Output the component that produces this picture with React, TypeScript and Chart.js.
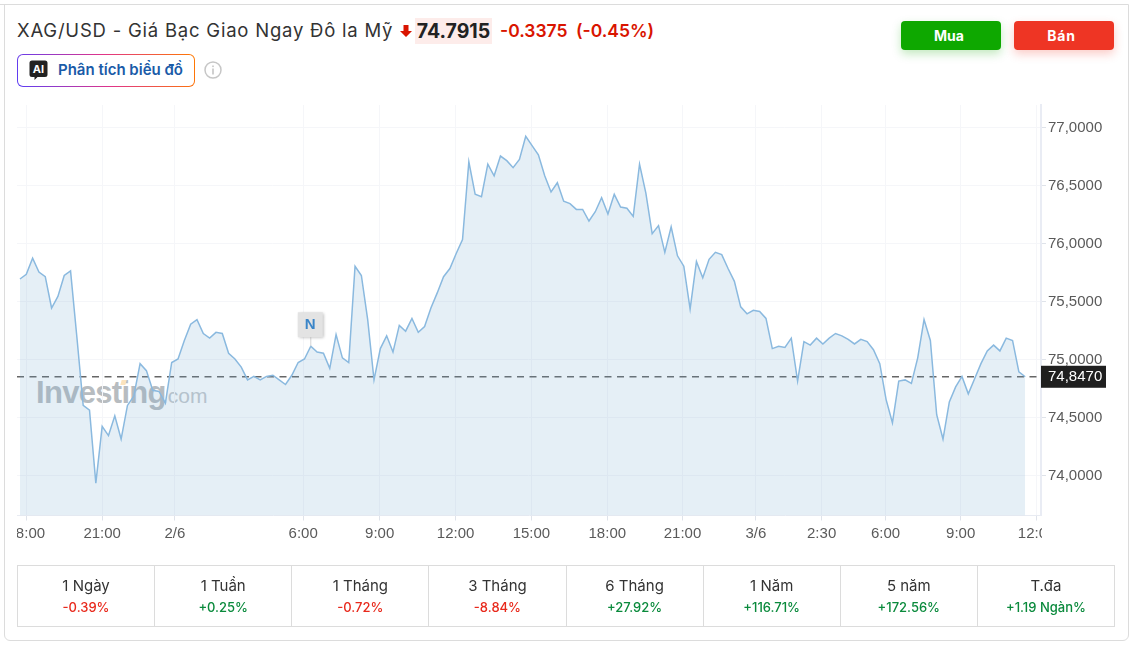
import React, { useEffect, useRef } from "react";
import { Chart, registerables } from "chart.js";

Chart.register(...registerables);

const prices = [
  75.69, 75.73, 75.87, 75.75, 75.71, 75.44, 75.54, 75.72, 75.76, 75.19,
  74.60, 74.56, 73.93, 74.42, 74.34, 74.51, 74.31, 74.60, 74.68, 74.96,
  74.90, 74.73, 74.72, 74.62, 74.97, 75.00, 75.16, 75.30, 75.34, 75.22,
  75.18, 75.23, 75.22, 75.05, 75.00, 74.93, 74.82, 74.85, 74.82, 74.85,
  74.86, 74.82, 74.78, 74.86, 74.97, 75.00, 75.11, 75.06, 75.05, 74.92,
  75.21, 75.01, 74.97, 75.80, 75.72, 75.34, 74.82, 75.09, 75.20, 75.06,
  75.29, 75.24, 75.35, 75.23, 75.28, 75.44, 75.57, 75.71, 75.78, 75.91,
  76.03, 76.70, 76.42, 76.40, 76.68, 76.58, 76.75, 76.71, 76.65, 76.72,
  76.92, 76.84, 76.76, 76.58, 76.44, 76.52, 76.36, 76.34, 76.29, 76.29,
  76.19, 76.27, 76.39, 76.25, 76.42, 76.31, 76.30, 76.23, 76.68, 76.43,
  76.08, 76.15, 75.92, 76.14, 75.89, 75.80, 75.43, 75.84, 75.70, 75.86,
  75.92, 75.90, 75.78, 75.67, 75.45, 75.39, 75.42, 75.41, 75.35, 75.09,
  75.11, 75.10, 75.18, 74.81, 75.15, 75.12, 75.18, 75.13, 75.18, 75.22,
  75.20, 75.17, 75.13, 75.17, 75.15, 75.08, 74.96, 74.65, 74.45, 74.81,
  74.82, 74.79, 75.01, 75.34, 75.16, 74.52, 74.31, 74.63, 74.76, 74.85,
  74.70, 74.83, 74.96, 75.07, 75.12, 75.07, 75.18, 75.16, 74.89, 74.847,
];
const tickLabels = ["18:00", "21:00", "2/6", "6:00", "9:00", "12:00", "15:00", "18:00", "21:00", "3/6", "2:30", "6:00", "9:00", "12:00"];
const tickSlots = [1, 13, 24.5, 44.8, 56.9, 68.9, 80.9, 92.9, 104.8, 116.4, 126.8, 136.9, 148.8, 160.8];
const yTicks = [74, 74.5, 75, 75.5, 76, 76.5, 77];
const lastPrice = 74.847;
const newsSlot = 46;
const periods = ["1 Ngày", "1 Tuần", "1 Tháng", "3 Tháng", "6 Tháng", "1 Năm", "5 năm", "T.đa"];
const periodChanges = ["-0.39%", "+0.25%", "-0.72%", "-8.84%", "+27.92%", "+116.71%", "+172.56%", "+1.19 Ngàn%"];

const UI = "Inter, 'Noto Sans', sans-serif";
const AXIS = "'Liberation Sans', Arial, sans-serif";

const overlay = {
  id: "overlay",
  beforeDraw(chart: any) {
    // the y labels sit one pixel lower than their ticks in the original
    chart.scales.y.getLabelItems().forEach((it: any) => {
      if (!it.shifted) {
        it.options.translation[1] += 1;
        it.shifted = true;
      }
    });
  },
  afterDraw(chart: any) {
    const { ctx, scales, chartArea } = chart;
    const x = scales.x;
    const y = scales.y;
    ctx.save();
    // clip axis labels at plot edges, like the original
    ctx.clearRect(5, chartArea.bottom + 4, chartArea.left - 5, 30);
    ctx.clearRect(chartArea.right + 1, chartArea.bottom + 4, 40, 30);
    // last price tag
    const py = y.getPixelForValue(lastPrice);
    ctx.fillStyle = "#1f1f1f";
    ctx.fillRect(chartArea.right, py - 11, 65, 22);
    ctx.fillStyle = "#ffffff";
    ctx.font = "15px " + AXIS;
    ctx.textAlign = "left";
    ctx.textBaseline = "middle";
    ctx.fillText(lastPrice.toFixed(4).replace(".", ","), chartArea.right + 7, py + 0.5);
    // news marker
    const nx = x.getPixelForValue(newsSlot);
    const ny = y.getPixelForValue(prices[newsSlot]);
    ctx.strokeStyle = "#d5d5d5";
    ctx.lineWidth = 1;
    ctx.beginPath();
    ctx.moveTo(nx, ny);
    ctx.lineTo(nx, ny - 10);
    ctx.stroke();
    ctx.shadowColor = "rgba(0,0,0,0.3)";
    ctx.shadowBlur = 3;
    ctx.shadowOffsetX = 1;
    ctx.shadowOffsetY = 1;
    ctx.fillStyle = "#e3e3e3";
    ctx.fillRect(nx - 13, ny - 34, 25, 25);
    ctx.shadowColor = "transparent";
    ctx.fillStyle = "#3a85c8";
    ctx.font = "bold 15px " + AXIS;
    ctx.textAlign = "center";
    ctx.fillText("N", nx - 0.5, ny - 21);
    ctx.restore();
  },
};

function AbsText(p: { x: number; y: number; w?: number; style?: React.CSSProperties; children: React.ReactNode }) {
  return (
    <div style={{ position: "absolute", left: p.x, top: p.y, width: p.w, whiteSpace: "nowrap", ...p.style }}>{p.children}</div>
  );
}

export default function App() {
  const ref = useRef<HTMLCanvasElement>(null);
  useEffect(() => {
    const chart = new Chart(ref.current!, {
      type: "line",
      data: {
        datasets: [
          {
            data: prices.map((p, i) => ({ x: i, y: p })),
            borderColor: "#8ab9df",
            borderWidth: 1.5,
            backgroundColor: "rgba(115,170,205,0.19)",
            fill: "start",
            pointRadius: 0,
            tension: 0,
          },
          {
            data: [
              { x: -0.47, y: lastPrice },
              { x: 161.5, y: lastPrice },
            ],
            borderColor: "#666666",
            borderWidth: 1.5,
            borderDash: [7, 5.5],
            pointRadius: 0,
            fill: false,
          },
        ],
      },
      plugins: [overlay],
      options: {
        animation: false,
        responsive: false,
        events: [],
        layout: { padding: { left: 17, top: 105, right: 0, bottom: 0 } },
        plugins: { legend: { display: false }, tooltip: { enabled: false } },
        scales: {
          x: {
            type: "linear",
            min: -0.47,
            max: 161.5,
            afterFit(s: any) {
              s.height = 130.5;
            },
            afterBuildTicks(s: any) {
              s.ticks = tickSlots.map((v) => ({ value: v }));
            },
            grid: { color: "#f5f6f9", tickColor: "#dfe3ea", tickLength: 5, lineWidth: 1 },
            border: { color: "#e8ebf2", width: 1 },
            ticks: {
              autoSkip: false,
              maxRotation: 0,
              padding: 4,
              color: "#5a5a5a",
              font: { family: AXIS, size: 15 },
              callback(_v: any, i: number) {
                return tickLabels[i];
              },
            },
          },
          y: {
            position: "right",
            min: 73.651,
            max: 77.19,
            afterFit(s: any) {
              s.width = 94;
            },
            afterBuildTicks(s: any) {
              s.ticks = yTicks.map((v) => ({ value: v }));
            },
            grid: { color: "#f5f6f9", tickColor: "#dfe3ea", tickLength: 5, lineWidth: 1 },
            border: { color: "#e9ecf4", width: 2 },
            ticks: {
              padding: 2,
              color: "#5a5a5a",
              font: { family: AXIS, size: 15 },
              callback(v: any) {
                return Number(v).toFixed(4).replace(".", ",");
              },
            },
          },
        },
      },
    } as any);
    return () => chart.destroy();
  }, []);

  return (
    <div style={{ position: "absolute", left: 0, top: 0, width: 1135, height: 646, overflow: "hidden", background: "#fff", fontFamily: UI }}>
      {/* card */}
      <div style={{ position: "absolute", left: 0, top: 4, width: 6, height: 1, background: "#dcdcdc" }} />
      <div style={{ position: "absolute", left: 4, top: 4, width: 1123, height: 635, border: "1px solid #dcdcdc", borderRadius: "0 0 6px 6px" }} />

      {/* header */}
      <AbsText x={17} y={18} style={{ fontSize: 18.5, letterSpacing: 0.78, lineHeight: "25px", color: "#333" }}>XAG/USD - Giá Bạc Giao Ngay Đô la Mỹ</AbsText>
      <svg style={{ position: "absolute", left: 400, top: 25 }} width={12} height={12} viewBox="0 0 12 12">
        <path d="M3.5 0h5v6h3.5L6 12 0 6h3.5z" fill="#d91400" />
      </svg>
      <AbsText x={415} y={18} w={77} style={{ height: 26, background: "#fdecea", fontSize: 19.5, fontWeight: 700, lineHeight: "26px", color: "#222", textAlign: "center" }}>74.7915</AbsText>
      <AbsText x={500} y={18} style={{ fontSize: 17.5, fontWeight: 600, lineHeight: "25px", color: "#d91400" }}>-0.3375</AbsText>
      <AbsText x={576} y={18} style={{ fontSize: 17.5, fontWeight: 600, lineHeight: "25px", color: "#d91400" }}>(-0.45%)</AbsText>

      {/* AI button */}
      <div style={{ position: "absolute", left: 17, top: 54, width: 178, height: 33, borderRadius: 6, background: "linear-gradient(75deg,#5b3df5,#e0348a 50%,#ff7a00)", padding: 1.25, boxSizing: "border-box" }}>
        <div style={{ width: "100%", height: "100%", background: "#fff", borderRadius: 5 }} />
      </div>
      <svg style={{ position: "absolute", left: 29, top: 60 }} width={19} height={20} viewBox="0 0 19 20">
        <path d="M3 0.5h13a2.5 2.5 0 0 1 2.5 2.5v11.5a2.5 2.5 0 0 1-2.5 2.5H8.5l-3 3v-3H3a2.5 2.5 0 0 1-2.5-2.5V3A2.5 2.5 0 0 1 3 0.5z" fill="#222" />
        <text x="9.5" y="13" textAnchor="middle" fontSize="11" fontWeight="700" fill="#fff" fontFamily={UI}>AI</text>
      </svg>
      <AbsText x={58} y={60} style={{ fontSize: 15, fontWeight: 600, lineHeight: "20px", color: "#1a5ba8" }}>Phân tích biểu đồ</AbsText>
      <svg style={{ position: "absolute", left: 204, top: 61 }} width={18} height={18} viewBox="0 0 18 18">
        <circle cx="9" cy="9" r="8" fill="none" stroke="#c6c6c6" strokeWidth="1.5" />
        <rect x="8.3" y="7.5" width="1.4" height="6" fill="#bdbdbd" />
        <rect x="8.3" y="4.5" width="1.4" height="1.6" fill="#bdbdbd" />
      </svg>

      {/* buy / sell */}
      <AbsText x={901} y={21} w={100} style={{ boxSizing: "border-box", paddingRight: 4, height: 29, borderRadius: 4, background: "#0ea800", boxShadow: "0 4px 10px rgba(14,168,0,0.25)", color: "#fff", fontSize: 14, fontWeight: 700, lineHeight: "29px", textAlign: "center" }}>Mua</AbsText>
      <AbsText x={1014} y={21} w={100} style={{ boxSizing: "border-box", paddingRight: 5, height: 29, borderRadius: 4, background: "#ee3524", boxShadow: "0 4px 10px rgba(238,53,36,0.25)", color: "#fff", fontSize: 14, letterSpacing: 0.8, fontWeight: 700, lineHeight: "29px", textAlign: "center" }}>Bán</AbsText>

      {/* watermark */}
      <AbsText x={36} y={374} style={{ fontFamily: AXIS, fontSize: 31, fontWeight: 700, lineHeight: "38px", color: "#b7bcc0", letterSpacing: -0.7 }}>Investing</AbsText>
      <div style={{ position: "absolute", left: 121, top: 380, width: 5, height: 5, background: "#fbe3bd", transform: "skewX(-15deg)" }} />
      <AbsText x={162} y={383} style={{ fontFamily: AXIS, fontSize: 21, lineHeight: "26px", color: "#c4c8cc" }}>.com</AbsText>

      <canvas ref={ref} width={1135} height={646} style={{ position: "absolute", left: 0, top: 0, width: 1135, height: 646 }} />

      {/* periods */}
      <div style={{ position: "absolute", left: 17, top: 565, width: 1098, height: 62, border: "1px solid #dcdcdc", boxSizing: "border-box", display: "flex" }}>
        {periods.map((p, i) => (
          <div key={p} style={{ flex: 1, borderLeft: i ? "1px solid #dcdcdc" : "none", textAlign: "center", boxSizing: "border-box" }}>
            <div style={{ fontSize: 15, lineHeight: "18px", marginTop: 11, color: "#333" }}>{p}</div>
            <div style={{ fontSize: 13, fontWeight: 500, lineHeight: "16px", marginTop: 4, color: periodChanges[i].startsWith("+") ? "#0a8a3c" : "#e8291c" }}>{periodChanges[i]}</div>
          </div>
        ))}
      </div>
    </div>
  );
}
